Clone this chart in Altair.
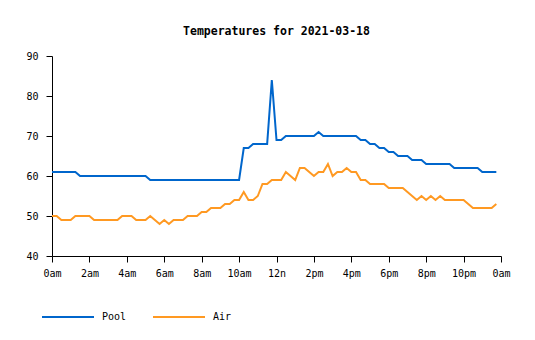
import altair as alt
import pandas as pd

TITLE = "Temperatures for 2021-03-18"
SERIES = ["Pool", "Air"]
COLORS = ["#0066cc", "#ff9922"]
STEP_HOURS = 0.25  # one reading every 15 minutes, starting at midnight

TICK_HOURS = [0, 2, 4, 6, 8, 10, 12, 14, 16, 18, 20, 22, 24]
TICK_LABELS = ["0am", "2am", "4am", "6am", "8am", "10am", "12n",
               "2pm", "4pm", "6pm", "8pm", "10pm", "0am"]
Y_TICKS = [40, 50, 60, 70, 80, 90]

# readings, one per quarter hour (4 per hour), hours 0..23
POOL = [
    61, 61, 61, 61,  61, 61, 60, 60,  60, 60, 60, 60,  60, 60, 60, 60,   # 0-3
    60, 60, 60, 60,  60, 59, 59, 59,  59, 59, 59, 59,  59, 59, 59, 59,   # 4-7
    59, 59, 59, 59,  59, 59, 59, 59,  59, 67, 67, 68,  68, 68, 68, 84,   # 8-11
    69, 69, 70, 70,  70, 70, 70, 70,  70, 71, 70, 70,  70, 70, 70, 70,   # 12-15
    70, 70, 69, 69,  68, 68, 67, 67,  66, 66, 65, 65,  65, 64, 64, 64,   # 16-19
    63, 63, 63, 63,  63, 63, 62, 62,  62, 62, 62, 62,  61, 61, 61, 61,   # 20-23
]
AIR = [
    50, 50, 49, 49,  49, 50, 50, 50,  50, 49, 49, 49,  49, 49, 49, 50,   # 0-3
    50, 50, 49, 49,  49, 50, 49, 48,  49, 48, 49, 49,  49, 50, 50, 50,   # 4-7
    51, 51, 52, 52,  52, 53, 53, 54,  54, 56, 54, 54,  55, 58, 58, 59,   # 8-11
    59, 59, 61, 60,  59, 62, 62, 61,  60, 61, 61, 63,  60, 61, 61, 62,   # 12-15
    61, 61, 59, 59,  58, 58, 58, 58,  57, 57, 57, 57,  56, 55, 54, 55,   # 16-19
    54, 55, 54, 55,  54, 54, 54, 54,  54, 53, 52, 52,  52, 52, 52, 53,   # 20-23
]

rows = []
for name, values in (("Pool", POOL), ("Air", AIR)):
    for i, v in enumerate(values):
        rows.append({"hour": i * STEP_HOURS, "temp": v, "series": name})
df = pd.DataFrame(rows)

label_expr = "[" + ",".join("'%s'" % s for s in TICK_LABELS) + "][round(datum.value / 2)]"

FONT = "DejaVu Sans Mono"

chart = (
    alt.Chart(df)
    .mark_line(strokeWidth=2, interpolate="linear")
    .encode(
        x=alt.X(
            "hour:Q",
            scale=alt.Scale(domain=[0, 24], nice=False, zero=False),
            axis=alt.Axis(values=TICK_HOURS, labelExpr=label_expr, title=None,
                          grid=False, tickSize=6, labelPadding=6,
                          labelFlush=False, labelOverlap=False),
        ),
        y=alt.Y(
            "temp:Q",
            scale=alt.Scale(domain=[40, 90], nice=False, zero=False),
            axis=alt.Axis(values=Y_TICKS, title=None, grid=False, tickSize=6,
                          labelPadding=8),
        ),
        color=alt.Color(
            "series:N",
            scale=alt.Scale(domain=SERIES, range=COLORS),
            legend=alt.Legend(
                orient="none", legendX=-11, legendY=234, direction="horizontal",
                title=None, symbolType="stroke", symbolSize=2704,
                symbolStrokeWidth=2, labelFontSize=10, labelFont=FONT,
                labelOffset=7, columnPadding=22, padding=0,
                labelColor="black",
            ),
        ),
        order=alt.Order("hour:Q"),
    )
    .properties(
        width=449,
        height=200,
        title=alt.TitleParams(TITLE, font=FONT, fontSize=11.5, fontWeight="bold",
                              anchor="middle", offset=14, color="black"),
        autosize=alt.AutoSizeParams(type="none"),
        padding={"left": 52, "top": 56, "right": 34, "bottom": 84},
        background="white",
    )
    .configure_view(stroke=None)
    .configure_axis(
        labelFont=FONT, labelFontSize=10, labelColor="black",
        domainColor="black", tickColor="black", domainWidth=1, tickWidth=1,
    )
)

chart.save("out.html", embed_options={"renderer": "svg", "actions": False})
